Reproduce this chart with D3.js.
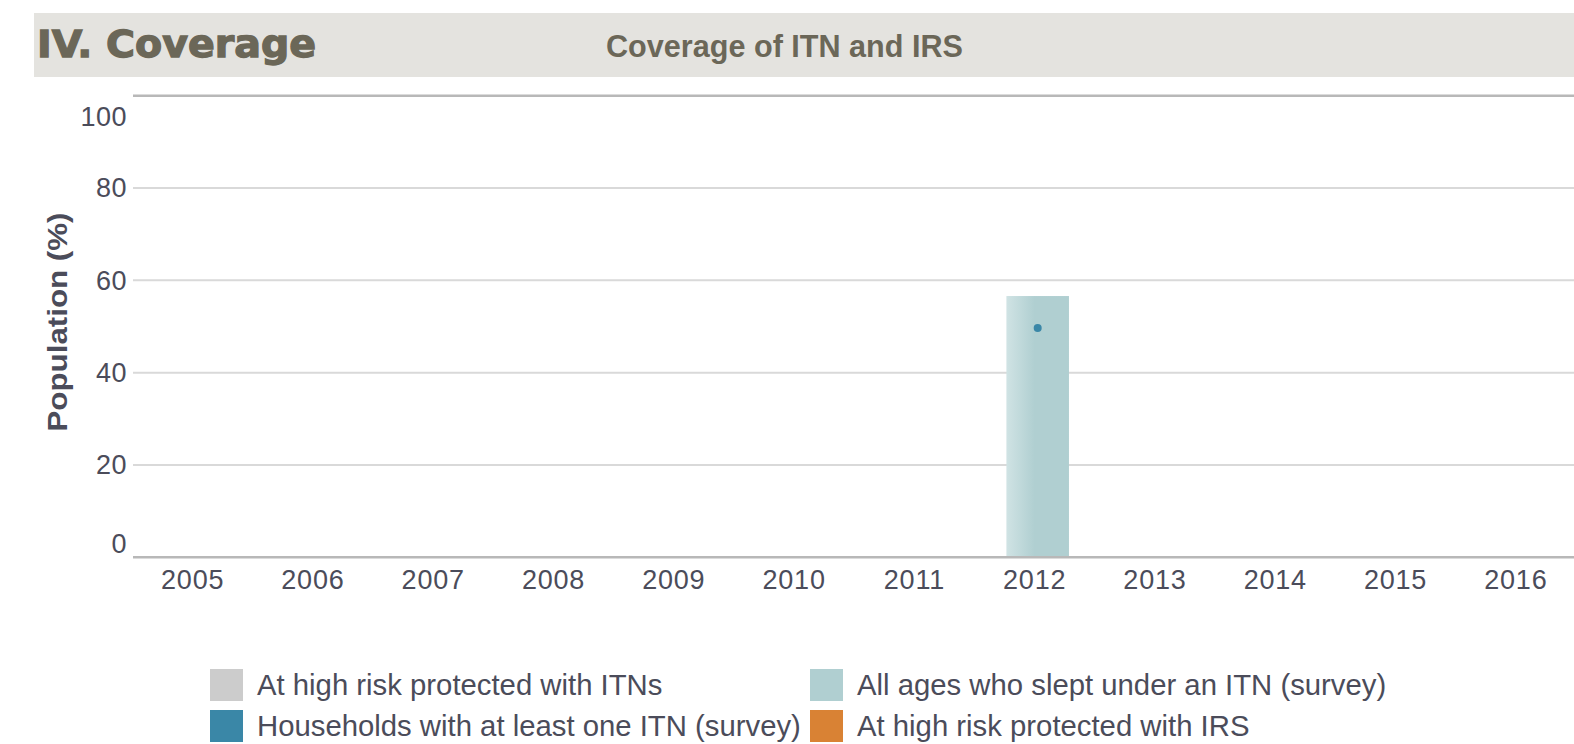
<!DOCTYPE html>
<html><head><meta charset="utf-8">
<script src="https://cdn.jsdelivr.net/npm/d3@7"></script>
<style>
html,body{margin:0;padding:0;background:#fff;}
svg{display:block;font-family:"Liberation Sans",Arial,sans-serif;}
</style></head>
<body>
<svg id="chart" width="1574" height="744"></svg>
<script>
// ---- data ----
const years = ["2005","2006","2007","2008","2009","2010","2011","2012","2013","2014","2015","2016"];
const sleptUnderITN = [null,null,null,null,null,null,null,56.6,null,null,null,null];   // bar (survey)
const householdsITN = [null,null,null,null,null,null,null,49.7,null,null,null,null];   // dot (survey)
const yTicks = [0,20,40,60,80,100];
const legendNames = ["At high risk protected with ITNs","All ages who slept under an ITN (survey)","Households with at least one ITN (survey)","At high risk protected with IRS"];
const legendColors = ["#cccccc","#b0cfd1","#3a87a7","#d98234"];

const svg = d3.select("#chart");
const W = 1574;

// header band
svg.append("rect").attr("x",34).attr("y",13).attr("width",W-34).attr("height",64).attr("fill","#e4e3df");
svg.append("text").attr("x",37).attr("y",57)
  .attr("font-family","'DejaVu Sans',sans-serif").attr("font-weight","bold").attr("font-size",38)
  .attr("textLength",279).attr("lengthAdjust","spacingAndGlyphs")
  .attr("fill","#6b6758").attr("stroke","#6b6758").attr("stroke-width",1.3).text("IV. Coverage");
svg.append("text").attr("x",606).attr("y",57)
  .attr("font-weight","bold").attr("font-size",32)
  .attr("textLength",357).attr("lengthAdjust","spacingAndGlyphs")
  .attr("fill","#6b6758").text("Coverage of ITN and IRS");

// scales
const y = d3.scaleLinear().domain([0,100]).range([557.3,95.7]);
const x = d3.scaleBand().domain(years).range([132.5,1576]).padding(0);
const plotLeft = 133, plotRight = W;

const defs = svg.append("defs");
const grad = defs.append("linearGradient").attr("id","barGrad").attr("x1","0").attr("x2","1").attr("y1","0").attr("y2","0");
grad.append("stop").attr("offset","0").attr("stop-color","#d0e3e4");
grad.append("stop").attr("offset","0.45").attr("stop-color","#b0cfd1");
grad.append("stop").attr("offset","1").attr("stop-color","#b0cfd1");

// gridlines
svg.append("g").selectAll("line").data(yTicks.filter(t=>t>0 && t<100)).join("line")
  .attr("x1",plotLeft).attr("x2",plotRight).attr("y1",d=>y(d)).attr("y2",d=>y(d))
  .attr("stroke","#d9d9d9").attr("stroke-width",2);
// top line
svg.append("line").attr("x1",plotLeft).attr("x2",plotRight).attr("y1",y(100)).attr("y2",y(100))
  .attr("stroke","#b8b8b8").attr("stroke-width",2.5);

// y tick labels
const yLabelShift = {0:-14, 100:21};
svg.append("g").selectAll("text").data(yTicks).join("text")
  .attr("x",127).attr("y",d=>y(d)+(yLabelShift[d]||0)).attr("dy","0.35em")
  .attr("text-anchor","end").attr("font-size",27).attr("letter-spacing",0.5).attr("fill","#4b4c5a").text(d=>d);

// y title
svg.append("text").attr("transform","translate(67,322) rotate(-90)")
  .attr("text-anchor","middle").attr("font-weight","bold").attr("font-size",28)
  .attr("textLength",219).attr("lengthAdjust","spacingAndGlyphs")
  .attr("fill","#4b4c5a").text("Population (%)");

// bars
const barW = x.bandwidth()*0.52, barOff = 3;
svg.append("g").selectAll("rect").data(years.map((yr,i)=>({yr,v:sleptUnderITN[i]})).filter(d=>d.v!=null)).join("rect")
  .attr("x",d=>x(d.yr)+x.bandwidth()/2-barW/2+barOff).attr("width",barW)
  .attr("y",d=>y(d.v)).attr("height",d=>y(0)-y(d.v)).attr("fill","url(#barGrad)");

// dots
svg.append("g").selectAll("circle").data(years.map((yr,i)=>({yr,v:householdsITN[i]})).filter(d=>d.v!=null)).join("circle")
  .attr("cx",d=>x(d.yr)+x.bandwidth()/2+barOff).attr("cy",d=>y(d.v)).attr("r",4).attr("fill","#3a87a7");

// x axis line
svg.append("line").attr("x1",plotLeft).attr("x2",plotRight).attr("y1",y(0)).attr("y2",y(0))
  .attr("stroke","#b8b8b8").attr("stroke-width",2.5);

// x labels
svg.append("g").selectAll("text").data(years).join("text")
  .attr("x",d=>x(d)+x.bandwidth()/2).attr("y",588.5).attr("text-anchor","middle")
  .attr("font-size",27).attr("letter-spacing",0.8).attr("fill","#4b4c5a").text(d=>d);

// legend
const legPos = [[210,669],[810,669],[210,710],[810,710]];
const lg = svg.append("g");
legendNames.forEach((n,i)=>{
  const [lx,ly] = legPos[i];
  lg.append("rect").attr("x",lx).attr("y",ly).attr("width",33).attr("height",32).attr("fill",legendColors[i]);
  lg.append("text").attr("x",lx+47).attr("y",ly+16).attr("dy","0.35em")
    .attr("font-size",29.3).attr("fill","#4b4c5a").text(n);
});
</script>
</body></html>
